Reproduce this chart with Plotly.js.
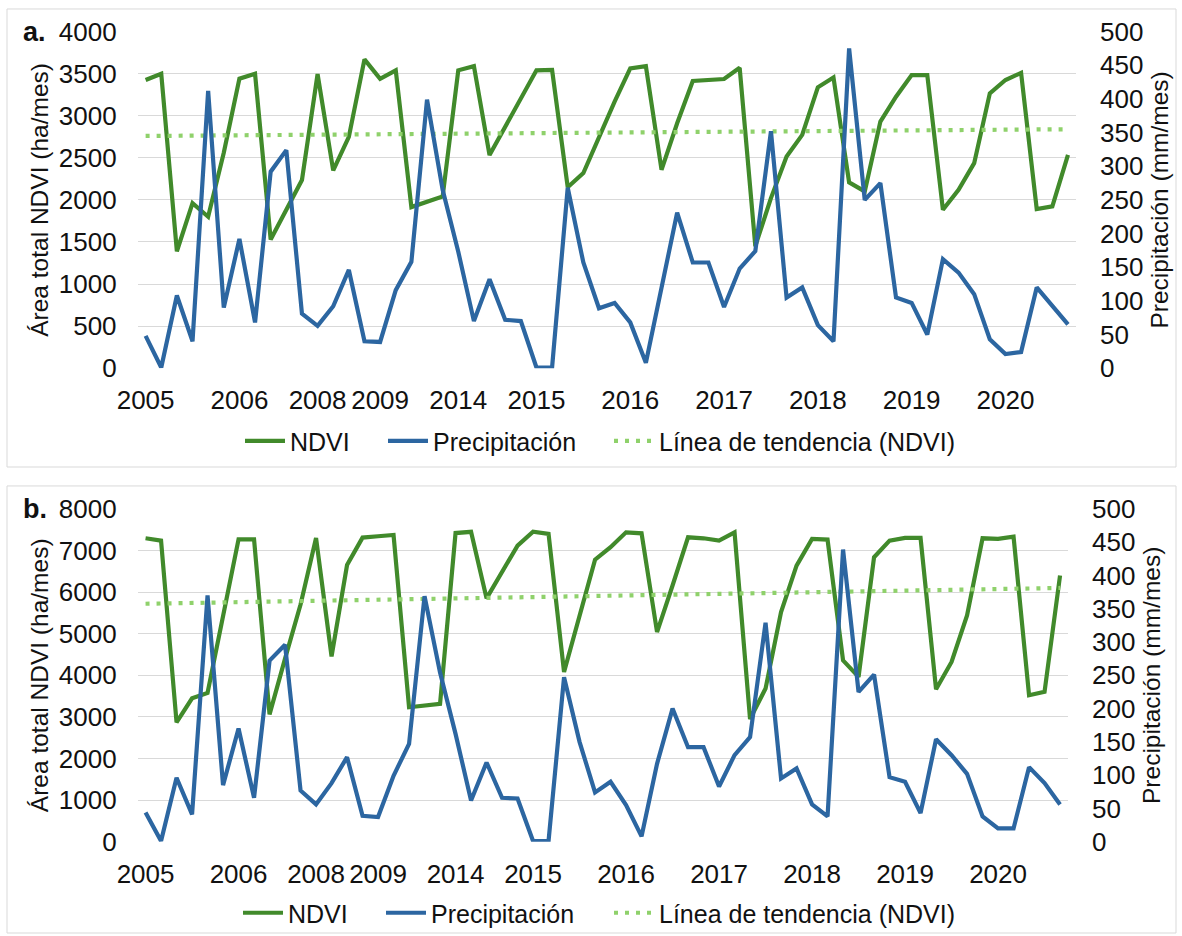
<!DOCTYPE html>
<html>
<head>
<meta charset="utf-8">
<script src="https://cdn.plot.ly/plotly-3.0.1.min.js"></script>
<style>
html,body{margin:0;padding:0;background:#fff;}
#chart{width:1182px;height:936px;}
</style>
</head>
<body>
<div id="chart"></div>
<script>
// Year of each monthly observation (category labels; shown once per year)
const years = [
  2005,2005,2005,2005,2005,2005,
  2006,2006,2006,2006,2006,
  2008,2008,2008,2008,
  2009,2009,2009,2009,2009,
  2014,2014,2014,2014,2014,
  2015,2015,2015,2015,2015,2015,
  2016,2016,2016,2016,2016,2016,
  2017,2017,2017,2017,2017,2017,
  2018,2018,2018,2018,2018,2018,
  2019,2019,2019,2019,2019,2019,
  2020,2020,2020,2020,2020
];

// Panel a
const ndviA = [3425,3500,1390,1961,1800,2560,3441,3500,1530,1885,
               2237,3495,2350,2750,3670,3440,3540,1915,1973,2040,
               3540,3590,2533,2870,3204,3540,3545,2150,2319,2753,
               3168,3563,3590,2358,2911,3413,3425,3437,3570,1450,
               2022,2516,2773,3338,3456,2208,2101,2931,3227,3484,
               3484,1884,2121,2437,3267,3425,3510,1892,1923,2536];
const precA = [48,1,108,40,412,90,192,68,292,324,
               81,63,92,146,40,39,116,158,399,265,
               173,70,132,72,70,1,1,268,157,89,
               97,68,8,122,231,157,157,91,148,174,
               352,105,120,64,40,475,250,275,105,97,
               50,162,142,110,43,21,24,120,92,65];
const trendA = [2760, 2840];   // trend line value at first and last observation

// Panel b
const ndviB = [7294,7238,2870,3447,3575,5400,7270,7270,3060,4400,
               5700,7300,4455,6650,7310,7342,7374,3232,3272,3312,
               7420,7450,5850,6470,7118,7450,7400,4080,5440,6780,
               7078,7438,7414,5040,6158,7318,7294,7238,7438,2950,
               3681,5520,6638,7278,7262,4360,3962,6839,7238,7302,
               7302,3665,4321,5440,7294,7278,7334,3521,3602,6398];
const precB = [44,1,96,41,370,85,170,66,272,296,
               77,56,88,127,39,37,99,147,369,254,
               162,62,119,66,65,1,1,247,150,74,
               90,55,8,117,200,142,142,83,130,157,
               329,95,110,56,38,439,225,251,97,90,
               43,154,130,102,38,20,20,112,88,56];
const trendB = [5720, 6100];

const names = ['NDVI', 'Precipitación', 'Línea de tendencia (NDVI)'];
const leftTitle = 'Área total NDVI (ha/mes)';
const rightTitle = 'Precipitación (mm/mes)';

// ---- build ----
const idx = years.map((_, i) => i);
const tickvals = [], ticktext = [];
years.forEach((y, i) => { if (i === 0 || years[i-1] !== y) { tickvals.push(i); ticktext.push(String(y)); } });
const trendX = [0, years.length - 1];

const GREEN = '#418A2B', BLUE = '#2C66A1', LIGHT = '#8FD16B';
const FONT = 'Liberation Sans, Arial, sans-serif';
const TXT = '#111111';
const W = 1182, H = 936;
const px = v => v / W, py = v => 1 - v / H;
const LW = 4.2;

// one legend per entry so the entries can sit where the reference puts them
function traces(ndvi, prec, trend, xa, yl, yr, legs) {
  return [
    {x: idx, y: ndvi, name: names[0], type: 'scatter', mode: 'lines', showlegend: true,
     line: {color: GREEN, width: LW}, xaxis: xa, yaxis: yl, legend: legs[0], hoverinfo: 'skip'},
    {x: idx, y: prec, name: names[1], type: 'scatter', mode: 'lines', showlegend: true,
     line: {color: BLUE, width: LW}, xaxis: xa, yaxis: yr, legend: legs[1], hoverinfo: 'skip'},
    {x: trendX, y: trend, name: names[2], type: 'scatter', mode: 'lines', showlegend: true,
     line: {color: LIGHT, width: LW, dash: '4px,7px'}, xaxis: xa, yaxis: yl, legend: legs[2], hoverinfo: 'skip'}
  ];
}

const data = [
  ...traces(ndviA, precA, trendA, 'x', 'y', 'y2', ['legend', 'legend2', 'legend3']),
  ...traces(ndviB, precB, trendB, 'x2', 'y3', 'y4', ['legend4', 'legend5', 'legend6'])
];

const tickFont = {family: FONT, size: 26, color: TXT};
const titleFont = {family: FONT, size: 24.5, color: TXT};
function xAxis(domain, anchor) {
  return {domain: domain, anchor: anchor, range: [-0.5, years.length - 0.5],
    tickmode: 'array', tickvals: tickvals, ticktext: ticktext,
    showgrid: false, zeroline: false, showline: false,
    ticks: 'outside', ticklen: 9, tickcolor: 'rgba(0,0,0,0)', tickfont: tickFont, fixedrange: true};
}
function yLeft(domain, anchor, max, dtick) {
  return {domain: domain, anchor: anchor, range: [0, max], dtick: dtick, tick0: 0,
    showgrid: true, gridcolor: '#d9d9d9', gridwidth: 1, zeroline: false, showline: false,
    ticks: 'outside', ticklen: 15, tickcolor: 'rgba(0,0,0,0)', tickfont: tickFont,
    title: {text: leftTitle, font: titleFont, standoff: 3}, fixedrange: true};
}
function yRight(overlay, anchor) {
  return {overlaying: overlay, anchor: anchor, side: 'right', range: [0, 500], dtick: 50, tick0: 0,
    showgrid: false, zeroline: false, showline: false,
    ticks: 'outside', ticklen: 18, tickcolor: 'rgba(0,0,0,0)', tickfont: tickFont,
    title: {text: rightTitle, font: titleFont, standoff: 8}, fixedrange: true};
}

function leg(x, y) {
  return {x: px(x), y: py(y), orientation: 'h', xanchor: 'left', yanchor: 'middle', itemwidth: 40,
    font: {family: FONT, size: 25, color: TXT}, bgcolor: 'rgba(0,0,0,0)',
    itemclick: false, itemdoubleclick: false};
}

const layout = {
  width: W, height: H,
  margin: {l: 0, r: 0, t: 0, b: 0},
  showlegend: true,
  paper_bgcolor: '#ffffff', plot_bgcolor: 'rgba(0,0,0,0)',
  font: {family: FONT, color: TXT},
  xaxis: xAxis([px(137.8), px(1075.8)], 'y'),
  yaxis: yLeft([py(369), py(31.7)], 'x', 4000, 500),
  yaxis2: yRight('y', 'x'),
  xaxis2: xAxis([px(137.8), px(1067.8)], 'y3'),
  yaxis3: yLeft([py(843.5), py(510)], 'x2', 8000, 1000),
  yaxis4: yRight('y3', 'x2'),
  legend: leg(240, 442), legend2: leg(383, 442), legend3: leg(609, 442),
  legend4: leg(238, 915), legend5: leg(381, 915), legend6: leg(609, 915),
  shapes: [
    {type: 'rect', xref: 'paper', yref: 'paper', x0: px(7), x1: px(1176), y0: py(468), y1: py(9),
     line: {color: '#d9d9d9', width: 1}, layer: 'below'},
    {type: 'rect', xref: 'paper', yref: 'paper', x0: px(7), x1: px(1176), y0: py(935), y1: py(487),
     line: {color: '#d9d9d9', width: 1}, layer: 'below'}
  ],
  annotations: [
    {text: '<b>a.</b>', xref: 'paper', yref: 'paper', x: px(21), y: py(32), xanchor: 'left', yanchor: 'middle',
     showarrow: false, font: {family: FONT, size: 27, color: TXT}},
    {text: '<b>b.</b>', xref: 'paper', yref: 'paper', x: px(21), y: py(510), xanchor: 'left', yanchor: 'middle',
     showarrow: false, font: {family: FONT, size: 27, color: TXT}}
  ]
};

Plotly.newPlot('chart', data, layout, {displayModeBar: false, staticPlot: true});
</script>
</body>
</html>
